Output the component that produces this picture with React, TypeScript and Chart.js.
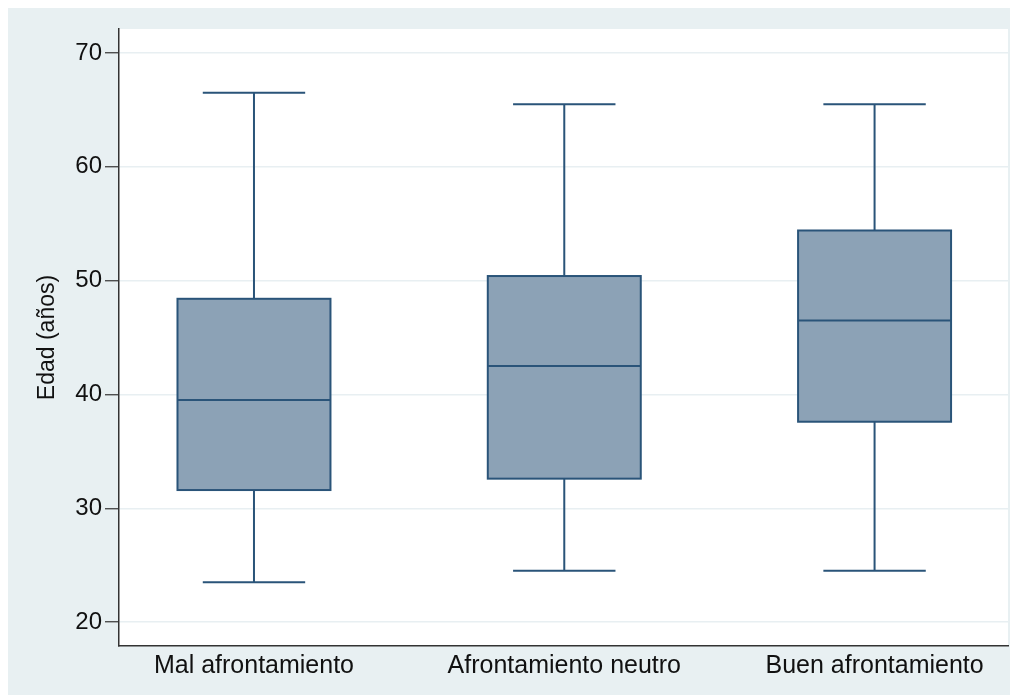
import React, { useEffect, useRef } from "react";
import { Chart, registerables } from "chart.js";

Chart.register(...registerables);

const categories = ["Mal afrontamiento", "Afrontamiento neutro", "Buen afrontamiento"];
const whiskerLow = [23.5, 24.5, 24.5];
const q1Values = [31.6, 32.6, 37.6];
const medianValues = [39.5, 42.5, 46.5];
const q3Values = [48.4, 50.4, 54.4];
const whiskerHigh = [66.5, 65.5, 65.5];
const yTicks = [20, 30, 40, 50, 60, 70];

const BG = "#e8f0f2";
const FILL = "#8ca2b6";
const STROKE = "#2a5479";
const FONT = "'Liberation Sans', Arial, Helvetica, sans-serif";

const boxPlugin = {
  id: "boxPlugin",
  beforeDraw(chart: any) {
    const { ctx, chartArea } = chart;
    ctx.save();
    ctx.fillStyle = BG;
    ctx.fillRect(0, 0, chart.width, chart.height);
    ctx.fillStyle = "#ffffff";
    ctx.fillRect(chartArea.left, chartArea.top, chartArea.right - chartArea.left, chartArea.bottom - chartArea.top);
    ctx.restore();
  },
  afterDatasetsDraw(chart: any) {
    const { ctx } = chart;
    const xs = chart.scales.x;
    const ys = chart.scales.y;
    const boxHalf = 0.2465;
    const capHalf = 0.165;
    ctx.save();
    ctx.strokeStyle = STROKE;
    ctx.lineWidth = 2;
    categories.forEach((_, i) => {
      const xv = i + 1;
      const cx = xs.getPixelForValue(xv);
      const bl = xs.getPixelForValue(xv - boxHalf);
      const br = xs.getPixelForValue(xv + boxHalf);
      const cl = xs.getPixelForValue(xv - capHalf);
      const cr = xs.getPixelForValue(xv + capHalf);
      const yLo = ys.getPixelForValue(whiskerLow[i]);
      const yQ1 = ys.getPixelForValue(q1Values[i]);
      const yMed = ys.getPixelForValue(medianValues[i]);
      const yQ3 = ys.getPixelForValue(q3Values[i]);
      const yHi = ys.getPixelForValue(whiskerHigh[i]);
      ctx.beginPath();
      ctx.moveTo(cx, yQ3);
      ctx.lineTo(cx, yHi);
      ctx.moveTo(cl, yHi);
      ctx.lineTo(cr, yHi);
      ctx.moveTo(cx, yQ1);
      ctx.lineTo(cx, yLo);
      ctx.moveTo(cl, yLo);
      ctx.lineTo(cr, yLo);
      ctx.stroke();
      ctx.fillStyle = FILL;
      ctx.fillRect(bl, yQ3, br - bl, yQ1 - yQ3);
      ctx.strokeRect(bl, yQ3, br - bl, yQ1 - yQ3);
      ctx.beginPath();
      ctx.moveTo(bl, yMed);
      ctx.lineTo(br, yMed);
      ctx.stroke();
    });
    ctx.restore();
  },
};

export default function App() {
  const ref = useRef<HTMLCanvasElement>(null);
  useEffect(() => {
    if (!ref.current) return;
    const chart = new Chart(ref.current, {
      type: "scatter",
      data: {
        datasets: [
          {
            data: categories.map((_, i) => ({ x: i + 1, y: medianValues[i] })),
            pointRadius: 0,
            showLine: false,
          },
        ],
      },
      options: {
        animation: false,
        responsive: false,
        layout: { padding: { top: 21, right: 10, left: 0, bottom: 0 } },
        plugins: { legend: { display: false }, tooltip: { enabled: false } },
        scales: {
          x: {
            type: "linear",
            min: 0.565,
            max: 3.43,
            afterBuildTicks: (scale: any) => {
              scale.ticks = categories.map((_, i) => ({ value: i + 1 }));
            },
            afterFit: (scale: any) => {
              scale.height = 49;
            },
            grid: { display: false, drawTicks: false },
            border: { display: true, color: "#333333", width: 1.5 },
            ticks: {
              padding: 5,
              color: "#111111",
              font: { family: FONT, size: 25 },
              maxRotation: 0,
              autoSkip: false,
              callback: (v: any) => categories[Math.round(Number(v)) - 1] ?? "",
            },
          },
          y: {
            type: "linear",
            min: 17.9,
            max: 72.1,
            afterBuildTicks: (scale: any) => {
              scale.ticks = yTicks.map((v) => ({ value: v }));
            },
            afterFit: (scale: any) => {
              scale.width = 111;
            },
            grid: {
              color: "#e8eff2",
              lineWidth: 1.5,
              tickColor: "#333333",
              tickLength: 14,
              tickWidth: 1.2,
            },
            border: { display: true, color: "#333333", width: 1.5 },
            ticks: {
              padding: 3,
              color: "#111111",
              font: { family: FONT, size: 24 },
              callback: (v: any) => String(v),
            },
            title: {
              display: true,
              text: "Edad (años)",
              color: "#111111",
              font: { family: FONT, size: 23 },
              padding: { top: 26, bottom: 0 },
            },
          },
        },
      },
      plugins: [boxPlugin],
    });
    return () => chart.destroy();
  }, []);
  return <canvas ref={ref} width={1010} height={687} style={{ display: "block" }} />;
}
